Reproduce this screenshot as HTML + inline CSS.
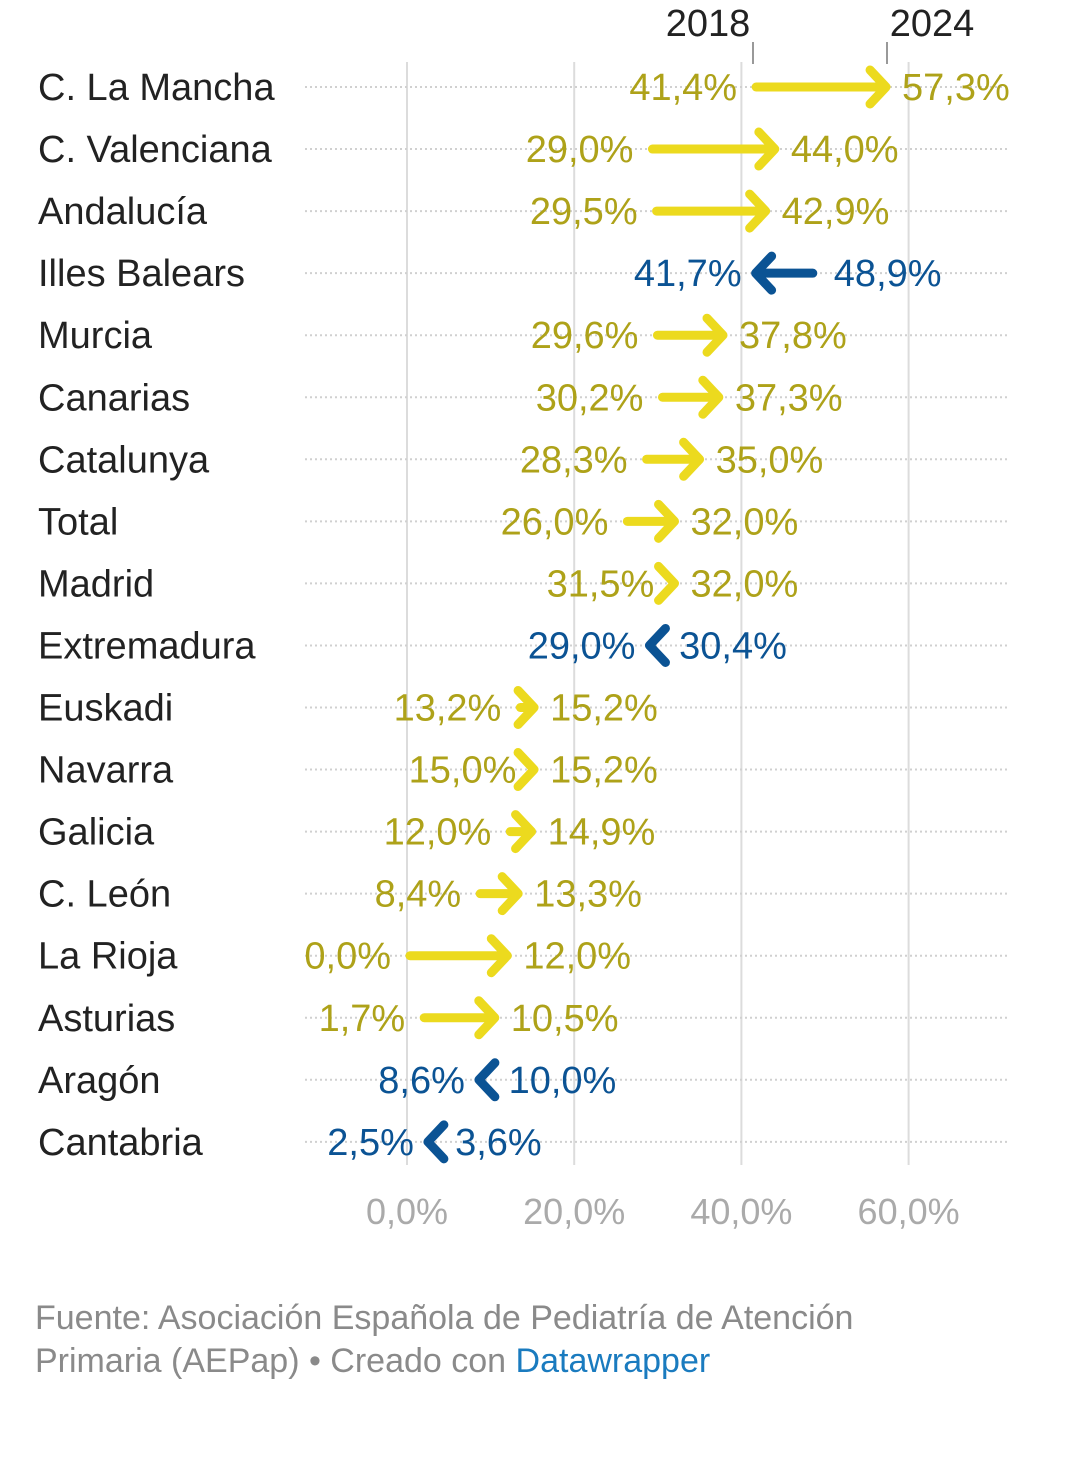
<!DOCTYPE html>
<html><head><meta charset="utf-8"><style>
body{margin:0;background:#fff;width:1080px;height:1460px;overflow:hidden;font-family:"Liberation Sans",sans-serif}
svg text{font-family:"Liberation Sans",sans-serif}
</style></head><body>
<svg id="chart" width="1080" height="1460" xmlns="http://www.w3.org/2000/svg"></svg>
<script>
const regions=["C. La Mancha","C. Valenciana","Andalucía","Illes Balears","Murcia","Canarias","Catalunya","Total","Madrid","Extremadura","Euskadi","Navarra","Galicia","C. León","La Rioja","Asturias","Aragón","Cantabria"];
const values2018=[41.4,29.0,29.5,48.9,29.6,30.2,28.3,26.0,31.5,30.4,13.2,15.0,12.0,8.4,0.0,1.7,10.0,3.6];
const values2024=[57.3,44.0,42.9,41.7,37.8,37.3,35.0,32.0,32.0,29.0,15.2,15.2,14.9,13.3,12.0,10.5,8.6,2.5];
const ticks=[0,20,40,60];
const NS="http://www.w3.org/2000/svg";
const svg=document.getElementById('chart');
const x=v=>407+v*8.36;
const y=i=>87+i*62.05;
const fmt=v=>v.toFixed(1).replace('.',',')+'%';
function mk(t,a,p){const e=document.createElementNS(NS,t);for(const k in a)e.setAttribute(k,a[k]);(p||svg).appendChild(e);return e;}
// vertical gridlines
ticks.forEach(t=>{
 const l=mk('line',{x1:x(t),x2:x(t),y1:62,y2:1165,stroke:'#dcdcdc','stroke-width':2});
 
 
 const tx=mk('text',{x:x(t),y:1224,'text-anchor':'middle','font-size':36,fill:'#aaaaaa'});
 tx.textContent=fmt(t);
 
 
});
// header
[[708,'2018',753],[932,'2024',887]].forEach(h=>{
 const t=mk('text',{x:h[0],y:36,'text-anchor':'middle','font-size':38,fill:'#222'});t.textContent=h[1];
 
 
 mk('line',{x1:h[2],x2:h[2],y1:42,y2:64,stroke:'#999','stroke-width':2});
});
regions.forEach((r,i)=>{
 const yy=y(i);
 const g=mk('g',{});
 
 
 mk('line',{x1:305,x2:1010,y1:yy,y2:yy,stroke:'#d0d0d0','stroke-width':2,'stroke-dasharray':'2,3'},g);
 const lb=mk('text',{x:38,y:yy+13,'font-size':38,fill:'#222'},g);lb.textContent=r;
 
 
 const a=values2018[i],b=values2024[i];
 const up=b>=a;
 const col=up?'#ecda1e':'#0b5394', tcol=up?'#aea219':'#0b5394';
 const xa=x(a),xb=x(b),d=up?1:-1;
 const ar=mk('g',{},g);
 
 
 if(Math.abs(xb-xa)>14) mk('line',{x1:xa+d*3,x2:xb-d*5,y1:yy,y2:yy,stroke:col,'stroke-width':9,'stroke-linecap':'round'},ar);
 mk('polyline',{points:`${xb-d*16},${yy-17} ${xb},${yy} ${xb-d*16},${yy+17}`,fill:'none',stroke:col,'stroke-width':9,'stroke-linecap':'round','stroke-linejoin':'round'},ar);
 const lo=Math.min(xa,xb),hi=Math.max(xa,xb);
 const l1=mk('text',{x:lo-(up?16:14),y:yy+13,'text-anchor':'end','font-size':38,fill:tcol},g);l1.textContent=fmt(up?a:b);
 
 
 const l2=mk('text',{x:hi+(up?16:18),y:yy+13,'font-size':38,fill:tcol},g);l2.textContent=fmt(up?b:a);
 
 
});
const f1=mk('text',{x:35,y:1329,'font-size':34,fill:'#8a8a8a'});f1.textContent='Fuente: Asociación Española de Pediatría de Atención';


const f2=mk('text',{x:35,y:1372,'font-size':34,fill:'#8a8a8a'});


f2.innerHTML='Primaria (AEPap) • Creado con <tspan fill="#1a7bbf">Datawrapper</tspan>';
</script>
</body></html>
